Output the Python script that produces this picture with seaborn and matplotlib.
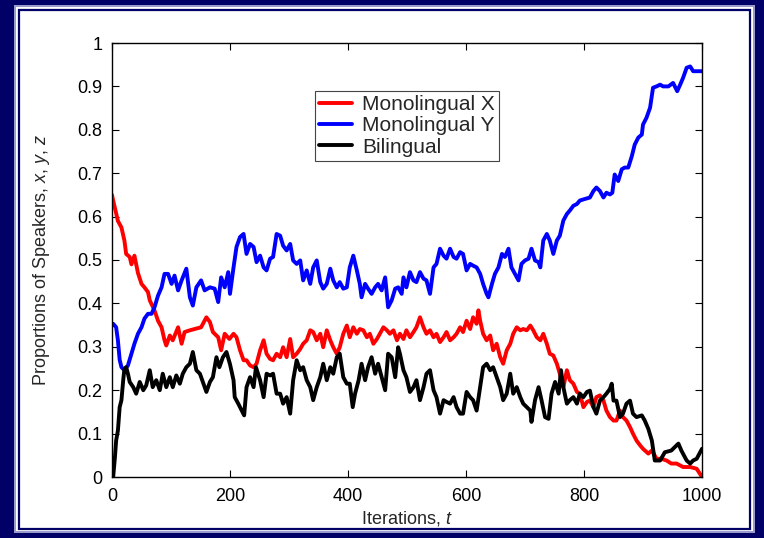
import numpy as np
import pandas as pd
import matplotlib
matplotlib.use("Agg")
import matplotlib.pyplot as plt
from matplotlib.patches import Rectangle
from matplotlib.lines import Line2D
import seaborn as sns

# ---------------- data ----------------
t_x = [0, 2, 10, 16, 21, 24, 30, 33, 38, 44, 50, 55, 61, 64, 72, 78, 84, 89, 92, 98,
       103, 112, 118, 123, 132, 140, 151, 160, 166, 171, 180, 185, 191, 199,
       206, 211, 217, 223, 228, 234, 240, 245, 251, 257, 262, 268, 273, 279, 285, 290,
       296, 302, 307, 313, 319, 324, 330, 336, 341, 347, 353, 358, 364, 370, 375, 381,
       386, 392, 398,
       403, 409, 415, 420, 426, 432, 437, 443, 449, 454, 460, 466, 471, 477, 483, 488,
       494, 499, 505, 511, 516, 522, 528, 533, 539, 545, 550, 556, 562, 567, 573, 579,
       584, 590, 595, 601, 607, 612, 618, 621, 624,
       629, 635, 641, 646, 652, 658, 663, 669, 675, 680, 686, 692, 697, 703, 709, 714,
       720, 726, 731, 737, 742, 748, 754, 759, 765, 771, 776, 782, 788, 793, 799, 805,
       810, 816, 821, 827, 833, 838, 844, 850, 855, 861, 866, 872, 878, 883, 889, 895,
       900, 909, 915, 923, 931, 940, 948, 957, 968, 980, 991, 1000]
x_vals = [0.65, 0.637, 0.59, 0.575, 0.545, 0.514, 0.507, 0.49, 0.51, 0.47, 0.445, 0.437,
          0.426, 0.407, 0.384, 0.36, 0.345, 0.315, 0.303, 0.326,
          0.315, 0.345, 0.307, 0.334, 0.338, 0.341, 0.345, 0.368, 0.357, 0.334, 0.322,
          0.292, 0.33, 0.318,
          0.33, 0.322, 0.292, 0.269, 0.269, 0.257, 0.253, 0.261, 0.292, 0.315, 0.284, 0.272,
          0.269, 0.284, 0.276, 0.299, 0.276, 0.318, 0.276, 0.284, 0.295, 0.307, 0.315, 0.338,
          0.334, 0.315, 0.33, 0.299, 0.338, 0.315, 0.299, 0.284, 0.299, 0.33, 0.349,
          0.322, 0.345, 0.33, 0.341, 0.338, 0.322, 0.33, 0.307, 0.318, 0.33, 0.345, 0.338,
          0.33, 0.338, 0.315, 0.33, 0.318, 0.338, 0.322, 0.334, 0.345, 0.368, 0.345, 0.33,
          0.338, 0.322, 0.33, 0.311, 0.322, 0.334, 0.315, 0.322, 0.33, 0.345, 0.334, 0.36,
          0.341, 0.368, 0.353, 0.384, 0.36,
          0.33, 0.315, 0.326, 0.292, 0.307, 0.276, 0.261, 0.292, 0.307, 0.33, 0.345, 0.338,
          0.341, 0.338, 0.349, 0.338, 0.322, 0.315, 0.33, 0.307, 0.284, 0.28, 0.261, 0.238,
          0.207, 0.246, 0.223, 0.215, 0.196, 0.192, 0.161, 0.173,
          0.176, 0.161, 0.184, 0.188, 0.176, 0.153, 0.138, 0.13, 0.13, 0.153, 0.138, 0.13,
          0.115, 0.1, 0.084, 0.073, 0.065, 0.054, 0.061, 0.042, 0.042, 0.038, 0.031, 0.031,
          0.023, 0.023, 0.019, 0.0]

t_y = [0, 2, 7, 10, 13, 16, 21, 27, 33, 38, 44, 50, 55, 61, 67, 72, 78, 84, 89, 95,
       101, 106, 112, 118, 126, 132, 137, 143, 151, 157, 166, 174, 180, 185, 191, 197,
       200, 206, 211, 217, 223, 228, 234, 240, 245, 251, 257, 262, 268, 273, 279, 285,
       290, 296, 302, 307, 313, 319, 324, 330, 336, 341, 347, 353, 358, 364, 370, 375,
       381, 386, 392, 398,
       403, 409, 415, 420, 423, 429, 434, 440, 446, 451, 457, 463, 468, 474, 480, 485,
       491, 494, 499, 505, 511, 516, 522, 528, 533, 539, 545, 550, 556, 562, 567, 573,
       579, 584, 590, 595, 601,
       607, 612, 618, 624, 629, 635, 638, 644, 649, 655, 661, 666, 672, 677, 683, 689,
       694, 700, 706, 711, 717, 723, 726, 731, 737, 742, 748, 754, 759, 765, 771, 776,
       782, 788, 793, 800,
       810, 816, 821, 827, 833, 838, 844, 848, 852, 858, 864, 869, 875, 881, 886, 892,
       898, 900, 906, 912, 917, 923, 929, 934, 943, 951, 958, 963, 968, 974, 980, 985,
       1000]
y_vals = [0.35, 0.353, 0.345, 0.315, 0.27, 0.253, 0.246, 0.257, 0.284, 0.307, 0.33, 0.345,
          0.365, 0.376, 0.376, 0.391, 0.418, 0.437, 0.468, 0.468,
          0.445, 0.464, 0.43, 0.453, 0.48, 0.414, 0.395, 0.437, 0.453, 0.43, 0.437, 0.434,
          0.403, 0.46, 0.437, 0.472,
          0.422, 0.483, 0.53, 0.553, 0.56, 0.514, 0.537, 0.53, 0.495, 0.51, 0.483, 0.476,
          0.503, 0.507, 0.56, 0.556, 0.533, 0.522, 0.537, 0.499, 0.491, 0.499, 0.453, 0.476,
          0.445, 0.483, 0.499, 0.449, 0.434, 0.445, 0.48, 0.453, 0.437, 0.449, 0.434, 0.437,
          0.483, 0.51, 0.476, 0.445, 0.414, 0.445, 0.434, 0.422, 0.437, 0.445, 0.43, 0.46,
          0.391, 0.407, 0.434, 0.437, 0.422, 0.46, 0.437, 0.472, 0.453, 0.449, 0.472, 0.457,
          0.453, 0.422, 0.483, 0.491, 0.526, 0.51, 0.503, 0.526, 0.507, 0.503, 0.518, 0.514,
          0.476,
          0.491, 0.487, 0.483, 0.468, 0.445, 0.422, 0.414, 0.445, 0.468, 0.483, 0.514, 0.507,
          0.526, 0.483, 0.468, 0.453, 0.491, 0.499, 0.503, 0.526, 0.499, 0.495, 0.483, 0.545,
          0.56, 0.545, 0.514, 0.545, 0.556, 0.591, 0.606, 0.614, 0.625, 0.629, 0.637, 0.64,
          0.644, 0.659, 0.667, 0.659, 0.644, 0.655, 0.651, 0.655, 0.697, 0.682, 0.709, 0.713,
          0.713, 0.739, 0.766, 0.782, 0.789, 0.812, 0.828, 0.851, 0.897, 0.9, 0.904, 0.9,
          0.9, 0.908, 0.889, 0.904, 0.92, 0.943, 0.946, 0.935, 0.935]

t_z = [0, 2, 5, 7, 10, 13, 16, 19, 21, 24, 27, 30, 36, 41, 47, 53, 58, 64, 69, 75,
       81, 86, 92, 98, 103, 109, 115, 120, 126, 132, 137, 143, 149, 154, 160, 166, 171,
       177, 182, 188, 194, 200,
       206, 208, 214, 220, 224, 228, 234, 240, 244, 251, 257, 262, 268, 273, 279, 285,
       290, 296, 302, 307, 313, 319, 324, 330, 336, 341, 347, 353, 358, 364, 370, 375,
       381, 386, 392, 398,
       403, 408, 412, 418, 423, 429, 434, 440, 446, 451, 457, 463, 468, 474, 480, 485,
       488, 494, 499, 505, 511, 516, 522, 528, 533, 539, 545, 550, 556, 562, 567, 573,
       579, 584, 590, 595, 601,
       607, 612, 618, 624, 629, 635, 641, 646, 652, 658, 663, 669, 675, 680, 686, 692,
       697, 703, 709, 711, 717, 723, 728, 734, 740, 745, 751, 757, 761, 765, 771, 776,
       782, 788, 793, 799, 805,
       810, 816, 821, 827, 833, 838, 844, 847, 850, 855, 861, 866, 872, 878, 883, 889,
       898, 903, 909, 915, 920, 929, 937, 948, 960, 965, 974, 980, 985, 991, 1000]
z_vals = [0.0, 0.0, 0.046, 0.084, 0.107, 0.161, 0.177, 0.223, 0.249, 0.253, 0.238, 0.219,
          0.207, 0.192, 0.219, 0.2, 0.211, 0.246, 0.207, 0.223,
          0.2, 0.238, 0.207, 0.23, 0.207, 0.234, 0.215, 0.238, 0.253, 0.261, 0.288, 0.246,
          0.238, 0.219, 0.196, 0.219, 0.23, 0.276, 0.253, 0.276, 0.288, 0.26,
          0.223, 0.184, 0.169, 0.153, 0.142, 0.207, 0.23, 0.207, 0.253, 0.223, 0.184, 0.238,
          0.234, 0.238, 0.192, 0.192, 0.169, 0.184, 0.146, 0.223, 0.269, 0.246, 0.253, 0.223,
          0.207, 0.177, 0.207, 0.23, 0.261, 0.223, 0.253, 0.238, 0.276, 0.284, 0.23, 0.215,
          0.215, 0.161, 0.192, 0.223, 0.261, 0.223, 0.253, 0.276, 0.238, 0.261, 0.23, 0.2,
          0.284, 0.276, 0.23, 0.299, 0.284, 0.246, 0.23, 0.196, 0.207, 0.223, 0.177, 0.207,
          0.238, 0.246, 0.2, 0.184, 0.146, 0.177, 0.173, 0.169, 0.184, 0.161, 0.146, 0.146,
          0.196,
          0.184, 0.177, 0.153, 0.207, 0.253, 0.261, 0.246, 0.253, 0.23, 0.207, 0.177, 0.192,
          0.238, 0.192, 0.207, 0.184, 0.169, 0.161, 0.153, 0.127, 0.177, 0.207, 0.177, 0.138,
          0.134, 0.192, 0.219, 0.192, 0.246, 0.207, 0.169, 0.177, 0.184, 0.169, 0.192, 0.184,
          0.196,
          0.199, 0.161, 0.146, 0.176, 0.184, 0.192, 0.203, 0.215, 0.176, 0.176, 0.138, 0.146,
          0.169, 0.176, 0.146, 0.138, 0.142, 0.13, 0.111, 0.084, 0.038, 0.038, 0.057, 0.061,
          0.077, 0.061, 0.038, 0.031, 0.038, 0.042, 0.065]

series_names = ["Monolingual X", "Monolingual Y", "Bilingual"]
series_colors = ["#ff0000", "#0000ff", "#000000"]
x_ticks = [0, 200, 400, 600, 800, 1000]
y_ticks = [0, 0.1, 0.2, 0.3, 0.4, 0.5, 0.6, 0.7, 0.8, 0.9, 1]
y_tick_labels = ["0", "0.1", "0.2", "0.3", "0.4", "0.5", "0.6", "0.7", "0.8", "0.9", "1"]

# ---------------- build long table ----------------
df = pd.concat([
    pd.DataFrame({"t": t_x, "value": x_vals, "series": series_names[0]}),
    pd.DataFrame({"t": t_y, "value": y_vals, "series": series_names[1]}),
    pd.DataFrame({"t": t_z, "value": z_vals, "series": series_names[2]}),
], ignore_index=True)

sns.set_style("ticks")
plt.rcParams["font.family"] = ["Liberation Sans", "DejaVu Sans"]
plt.rcParams["mathtext.fontset"] = "custom"
plt.rcParams["mathtext.rm"] = "Liberation Sans"
plt.rcParams["mathtext.it"] = "Liberation Sans:italic"

W, H = 764, 538
fig = plt.figure(figsize=(W / 100, H / 100), dpi=100, facecolor="#000066")

def rect_px(x0, y0, x1, y1, **kw):
    r = Rectangle((x0 / W, 1 - y1 / H), (x1 - x0) / W, (y1 - y0) / H,
                  transform=fig.transFigure, **kw)
    fig.add_artist(r)

# decorative frame
rect_px(14, 5, 755, 533, facecolor="#9a9acc", edgecolor="none", zorder=-10)
rect_px(16, 7, 753, 531, facecolor="white", edgecolor="none", zorder=-9)
rect_px(18.5, 9.5, 749.5, 528.5, facecolor="white", edgecolor="#000066", linewidth=1.6, zorder=-8)

ax = fig.add_axes([112 / W, 1 - 477 / H, (702 - 112) / W, (477 - 43) / H])
ax.set_facecolor("white")

palette = dict(zip(series_names, series_colors))
sns.lineplot(data=df, x="t", y="value", hue="series", palette=palette,
             estimator=None, sort=False, linewidth=2.8, ax=ax, legend=False)

ax.set_xlim(0, 1000)
ax.set_ylim(0, 1)
ax.set_xticks(x_ticks)
ax.set_yticks(y_ticks)
ax.set_yticklabels(y_tick_labels)
ax.tick_params(direction="in", length=5, width=0.8, top=True, right=True,
               labelsize=13, colors="black")
ax.tick_params(axis="x", pad=8)
ax.tick_params(axis="y", pad=7)
for s in ax.spines.values():
    s.set_visible(True)
    s.set_linewidth(1.0)
    s.set_color("black")

ax.set_xlabel("Iterations, $t$", fontsize=13, labelpad=3)
ax.set_ylabel("Proportions of Speakers, $x$, $y$, $z$", fontsize=13, labelpad=18)

handles = [Line2D([0], [0], color=c, lw=2.8) for c in series_colors]
leg = ax.legend(handles, series_names, loc="upper left", bbox_to_anchor=(0.344, 0.889),
                borderaxespad=0, fontsize=15, frameon=True, fancybox=False,
                edgecolor="#444444", framealpha=1, handlelength=1.6, handletextpad=0.45,
                labelspacing=0.1, borderpad=0.2)
leg.get_frame().set_linewidth(0.8)

fig.savefig("out.png", dpi=100, facecolor=fig.get_facecolor())
